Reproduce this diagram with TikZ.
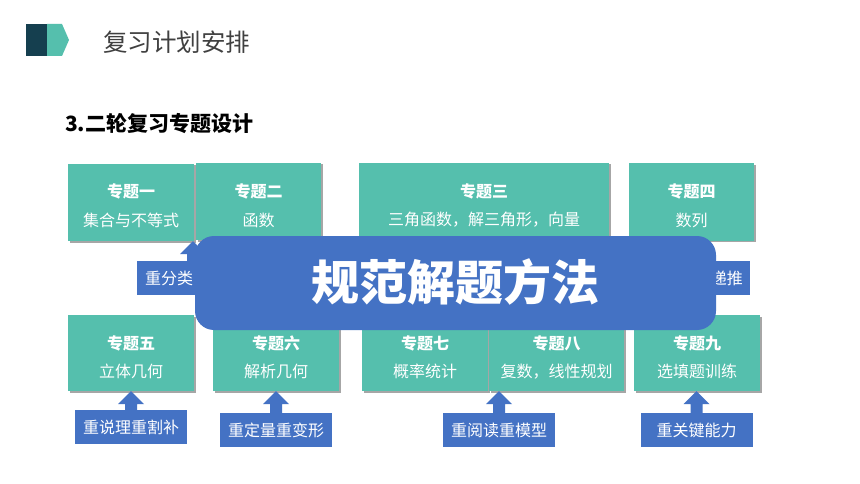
\documentclass[tikz,border=0pt]{standalone}
\usepackage{fontspec}
\setmainfont{Noto Sans CJK SC}
\usetikzlibrary{calc,shadows}
\definecolor{teal1}{HTML}{55BFAD}
\definecolor{blue1}{HTML}{4472C4}
\definecolor{dark1}{HTML}{153F4F}
\definecolor{gray1}{HTML}{404040}
\newcommand\calloutarrow[2]{\fill[blue1] let \p1=(#1.north), \p2=(#2.south) in
  (\x1-6pt,\y1-1pt) -- (\x1-6pt,\y2-13pt) -- (\x1-13pt,\y2-13pt) -- (\x1,\y2) --
  (\x1+13pt,\y2-13pt) -- (\x1+6pt,\y2-13pt) -- (\x1+6pt,\y1-1pt) -- cycle;}
\begin{document}
\begin{tikzpicture}[x=1pt,y=-1pt,
  topic/.style={fill=teal1, inner sep=0pt, minimum height=77pt,
    drop shadow={shadow xshift=1.5pt,shadow yshift=-1.5pt,opacity=0.35,fill=black}},
  ttl/.style={text=white, font=\fontsize{16}{16}\selectfont\bfseries, inner sep=0pt},
  sub/.style={text=white, font=\fontsize{16}{16}\selectfont, inner sep=0pt},
  callout/.style={fill=blue1, inner sep=0pt, minimum width=112pt, minimum height=34pt,
    text=white, font=\fontsize{16}{16}\selectfont},
  ctext/.style={text=white, font=\fontsize{16}{16}\selectfont, inner sep=0pt},
  banner/.style={fill=blue1, rounded corners=19pt}]
\useasboundingbox (0,0) rectangle (860,484);
\fill[white] (0,0) rectangle (860,484);
% header icon
\fill[dark1] (26,24) rectangle (47,56);
\fill[teal1] (47,24) -- (62,24) -- (69,40) -- (62,56) -- (47,56) -- cycle;
\node[anchor=west, inner sep=0pt, text=gray1, font=\fontsize{24.5}{24.5}\selectfont] (head) at (103,42) {复习计划安排};
\node[anchor=west, inner sep=0pt, text=black, font=\fontsize{21}{21}\selectfont\bfseries] (sec) at (65,124) {3.二轮复习专题设计};
% top row
\node[topic, minimum width=126pt] (b1) at (131,202.5) {};
\node[topic, minimum width=125pt] (b2) at (258.5,201.5) {};
\node[topic, minimum width=250pt] (b3) at (484,201.5) {};
\node[topic, minimum width=125pt] (b4) at (691.5,202) {};
\node[ttl] (t1) at (131,191.5) {专题一};
\node[sub] (s1) at (131,220) {集合与不等式};
\node[ttl] (t2) at (258.5,191.5) {专题二};
\node[sub] (s2) at (258.5,220) {函数};
\node[ttl] (t3) at (484,191.5) {专题三};
\node[sub] (s3) at (484,220) {三角函数，解三角形，向量};
\node[ttl] (t4) at (691.5,191.5) {专题四};
\node[sub] (s4) at (691.5,220) {数列};
% bottom row
\node[topic, minimum width=126pt, minimum height=76pt] (b5) at (131,353) {};
\node[topic, minimum width=126pt, minimum height=76pt] (b6) at (276,353) {};
\node[topic, minimum width=126pt, minimum height=76pt] (b7) at (425,353) {};
\node[topic, minimum width=135pt, minimum height=76pt] (b8) at (556.5,353) {};
\node[topic, minimum width=126pt, minimum height=76pt] (b9) at (697,353) {};
\node[ttl] (t5) at (131,343.5) {专题五};
\node[sub] (s5) at (131,371.5) {立体几何};
\node[ttl] (t6) at (276,343.5) {专题六};
\node[sub] (s6) at (276,371.5) {解析几何};
\node[ttl] (t7) at (425,343.5) {专题七};
\node[sub] (s7) at (425,371.5) {概率统计};
\node[ttl] (t8) at (556.5,343.5) {专题八};
\node[sub] (s8) at (556.5,371.5) {复数，线性规划};
\node[ttl] (t9) at (697,343.5) {专题九};
\node[sub] (s9) at (697,371.5) {选填题训练};
% callouts
\node[callout] (c1) at (193,278) {};
\node[ctext, anchor=west] (ct1) at (145,278) {重分类};
\calloutarrow{c1}{b1}
\node[callout] (c4) at (694,278) {};
\node[ctext, anchor=east] (ct4) at (743,278) {递推};
\calloutarrow{c4}{b4}
\node[callout] (c5) at (131,427) {重说理重割补};
\calloutarrow{c5}{b5}
\node[callout] (c6) at (276,430) {重定量重变形};
\calloutarrow{c6}{b6}
\node[callout] (c7) at (499,430) {重阅读重模型};
\calloutarrow{c7}{b8}
\node[callout] (c9) at (696.5,430) {重关键能力};
\calloutarrow{c9}{b9}
% banner
\fill[banner] (195,236) rectangle (716,330);
\node[text=white, inner sep=0pt, font=\fontsize{48}{48}\selectfont\bfseries] (ban) at (455,282) {规范解题方法};
\end{tikzpicture}
\end{document}
